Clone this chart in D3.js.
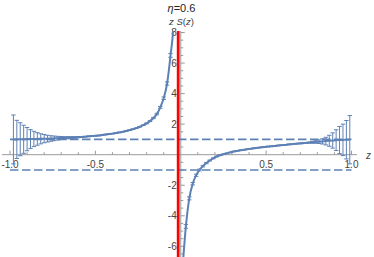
<!DOCTYPE html>
<html>
<head>
<meta charset="utf-8">
<script src="https://cdn.jsdelivr.net/npm/d3@7"></script>
<style>
  body { margin: 0; background: #fff; }
  svg text { font-family: "Liberation Sans", Arial, sans-serif; }
</style>
</head>
<body>
<svg id="chart" width="374" height="257"></svg>
<script>
// data: z S(z) with error bars, two branches either side of the pole
const zLeft = [-0.98, -0.96, -0.94, -0.92, -0.90, -0.88, -0.86, -0.84, -0.82, -0.80,
  -0.78, -0.76, -0.74, -0.72, -0.70, -0.68, -0.66, -0.64, -0.62, -0.60,
  -0.58, -0.56, -0.54, -0.52, -0.50, -0.48, -0.46, -0.44, -0.42, -0.40,
  -0.38, -0.36, -0.34, -0.32, -0.30, -0.28, -0.26, -0.24, -0.22, -0.20,
  -0.18, -0.16, -0.14, -0.12, -0.10, -0.08, -0.06, -0.04, -0.02];
const valLeft = [1.00, 1.00, 1.01, 1.01, 1.02, 1.02, 1.03, 1.03, 1.04, 1.05,
  1.05, 1.06, 1.07, 1.08, 1.09, 1.10, 1.11, 1.12, 1.13, 1.15,
  1.16, 1.18, 1.20, 1.22, 1.24, 1.26, 1.29, 1.32, 1.35, 1.38,
  1.42, 1.46, 1.50, 1.55, 1.61, 1.67, 1.74, 1.83, 1.93, 2.05,
  2.20, 2.40, 2.66, 3.10, 3.70, 4.66, 6.50, 9.00, 25.0];
const errLeft = [1.60, 1.25, 1.08, 0.92, 0.76, 0.62, 0.50, 0.41, 0.33, 0.27,
  0.22, 0.18, 0.15, 0.12, 0.10, 0.08, 0.07, 0.06, 0.05, 0.04,
  0.03, 0.02, 0.02, 0.02, 0.02, 0.02, 0.02, 0.02, 0.02, 0.02,
  0.02, 0.02, 0.02, 0.02, 0.02, 0.02, 0.02, 0.02, 0.02, 0.03,
  0.03, 0.04, 0.05, 0.06, 0.08, 0.10, 0.12, 0.15, 0.30];

const zRight = [0.01, 0.03, 0.05, 0.07, 0.09, 0.11, 0.13, 0.15, 0.17, 0.19,
  0.21, 0.23, 0.25, 0.27, 0.29, 0.31, 0.33, 0.35, 0.37, 0.39,
  0.41, 0.43, 0.45, 0.47, 0.49, 0.51, 0.53, 0.55, 0.57, 0.59,
  0.61, 0.63, 0.65, 0.67, 0.69, 0.71, 0.73, 0.75, 0.77, 0.79,
  0.81, 0.83, 0.85, 0.87, 0.89, 0.91, 0.93, 0.95, 0.97, 0.99];
const valRight = [-7.50, -4.70, -2.86, -1.90, -1.35, -1.00, -0.75, -0.55, -0.38, -0.24,
  -0.12, -0.04, 0.03, 0.09, 0.15, 0.21, 0.25, 0.29, 0.32, 0.36,
  0.39, 0.42, 0.45, 0.48, 0.50, 0.53, 0.55, 0.57, 0.60, 0.62,
  0.64, 0.67, 0.69, 0.71, 0.73, 0.75, 0.77, 0.79, 0.81, 0.83,
  0.85, 0.87, 0.89, 0.91, 0.93, 0.95, 0.96, 0.97, 0.98, 0.98];
const errRight = [0.20, 0.12, 0.10, 0.08, 0.07, 0.06, 0.05, 0.04, 0.03, 0.03,
  0.02, 0.02, 0.02, 0.02, 0.02, 0.02, 0.02, 0.02, 0.02, 0.02,
  0.02, 0.02, 0.02, 0.02, 0.02, 0.02, 0.02, 0.02, 0.02, 0.02,
  0.02, 0.02, 0.02, 0.02, 0.02, 0.03, 0.03, 0.04, 0.06, 0.08,
  0.12, 0.17, 0.25, 0.36, 0.50, 0.68, 0.89, 1.03, 1.26, 1.58];

const guideLevels = [1, -1];     // dashed reference lines
const poleZ = -0.015;            // red vertical line
const xTicks = [-1, -0.5, 0.5, 1];
const xTickLabels = ["-1.0", "-0.5", "0.5", "1.0"];
const yTicks = [-6, -4, -2, 2, 4, 6, 8];
const yTickLabels = ["-6", "-4", "-2", "2", "4", "6", "8"];

const width = 374, height = 257;
const blue = "#5e81b5";
const axisColor = "#9a9a9a";
const labelColor = "#444";

const svg = d3.select("#chart");

const x = d3.scaleLinear().domain([-1, 1]).range([10, 351.5]);
const y = d3.scaleLinear().domain([-6.7, 8.1]).range([257, 31]);

svg.append("defs").append("clipPath")
    .attr("id", "plotClip")
  .append("rect")
    .attr("x", 0).attr("y", y(8.1))
    .attr("width", width).attr("height", height - y(8.1));

// axes
const axes = svg.append("g");
axes.append("line")
    .attr("x1", 2).attr("x2", 357)
    .attr("y1", y(0)).attr("y2", y(0))
    .attr("stroke", axisColor).attr("stroke-width", 1);
axes.append("line")
    .attr("x1", x(0)).attr("x2", x(0))
    .attr("y1", y(8.1)).attr("y2", height)
    .attr("stroke", axisColor).attr("stroke-width", 1);

const xMinor = d3.range(-10, 11).map(d => d / 10).filter(d => d !== 0);
axes.selectAll(".xtick")
  .data(xMinor)
  .enter().append("line")
    .attr("x1", d => x(d)).attr("x2", d => x(d))
    .attr("y1", y(0))
    .attr("y2", d => y(0) - (xTicks.includes(d) ? 4 : 2.5))
    .attr("stroke", axisColor);

const yMinor = d3.range(-13, 17).map(d => d / 2).filter(d => d !== 0);
axes.selectAll(".ytick")
  .data(yMinor)
  .enter().append("line")
    .attr("y1", d => y(d)).attr("y2", d => y(d))
    .attr("x1", x(0))
    .attr("x2", d => x(0) + (yTicks.includes(d) ? 4 : 2.5))
    .attr("stroke", axisColor);

axes.selectAll(".xlab")
  .data(xTicks)
  .enter().append("text")
    .attr("x", d => x(d))
    .attr("y", y(0) + 13)
    .attr("text-anchor", "middle")
    .attr("font-size", 10)
    .attr("fill", labelColor)
    .text((d, i) => xTickLabels[i]);

axes.selectAll(".ylab")
  .data(yTicks)
  .enter().append("text")
    .attr("x", x(0) - 4)
    .attr("y", d => y(d) + 3.5)
    .attr("text-anchor", "end")
    .attr("font-size", 10)
    .attr("fill", labelColor)
    .text((d, i) => yTickLabels[i]);

// axis labels and title
svg.append("text")
    .attr("x", 366).attr("y", y(0) + 4)
    .attr("font-size", 10).attr("font-style", "italic")
    .attr("fill", labelColor)
    .text("z");

const ylab = svg.append("text")
    .attr("x", 181.5).attr("y", 25)
    .attr("text-anchor", "middle")
    .attr("font-size", 9.5)
    .attr("fill", labelColor);
ylab.append("tspan").attr("font-style", "italic").text("z");
ylab.append("tspan").text(" ");
ylab.append("tspan").attr("font-style", "italic").text("S");
ylab.append("tspan").text("(");
ylab.append("tspan").attr("font-style", "italic").text("z");
ylab.append("tspan").text(")");

const title = svg.append("text")
    .attr("x", 181.5).attr("y", 12)
    .attr("text-anchor", "middle")
    .attr("font-size", 11)
    .attr("fill", "#222");
title.append("tspan").attr("font-style", "italic").text("\u03b7");
title.append("tspan").text("=0.6");

// dashed guides
svg.append("g").selectAll("line")
  .data(guideLevels)
  .enter().append("line")
    .attr("x1", x(-1)).attr("x2", x(1))
    .attr("y1", d => y(d)).attr("y2", d => y(d))
    .attr("stroke", blue)
    .attr("stroke-width", 1.6)
    .attr("stroke-dasharray", "8.5,3.5");

// data
const branches = [
  zLeft.map((z, i) => ({z: z, v: valLeft[i], e: errLeft[i]})),
  zRight.map((z, i) => ({z: z, v: valRight[i], e: errRight[i]}))
];

const plot = svg.append("g").attr("clip-path", "url(#plotClip)");

const line = d3.line()
    .x(d => x(d.z))
    .y(d => y(d.v))
    .curve(d3.curveMonotoneX);

plot.selectAll(".branch")
  .data(branches)
  .enter().append("path")
    .attr("d", line)
    .attr("fill", "none")
    .attr("stroke", blue)
    .attr("stroke-width", 2);

const pts = branches[0].concat(branches[1]);
const bars = plot.append("g")
    .attr("stroke", blue)
    .attr("stroke-width", 1)
  .selectAll("g")
  .data(pts)
  .enter().append("g");

bars.append("line")
    .attr("x1", d => x(d.z)).attr("x2", d => x(d.z))
    .attr("y1", d => y(d.v - d.e)).attr("y2", d => y(d.v + d.e));
bars.append("line")
    .attr("x1", d => x(d.z) - 2.2).attr("x2", d => x(d.z) + 2.2)
    .attr("y1", d => y(d.v + d.e)).attr("y2", d => y(d.v + d.e));
bars.append("line")
    .attr("x1", d => x(d.z) - 2.2).attr("x2", d => x(d.z) + 2.2)
    .attr("y1", d => y(d.v - d.e)).attr("y2", d => y(d.v - d.e));

// pole marker
svg.append("line")
    .attr("x1", x(poleZ)).attr("x2", x(poleZ))
    .attr("y1", y(8.1)).attr("y2", height)
    .attr("stroke", "#ff0000")
    .attr("stroke-width", 2.8);
</script>
</body>
</html>
